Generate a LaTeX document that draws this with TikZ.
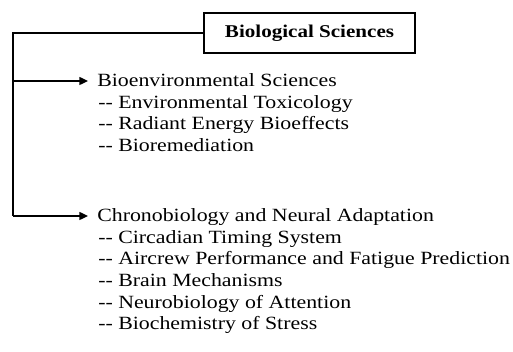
\documentclass[tikz,border=0pt]{standalone}
\usepackage{fontspec}
\setmainfont[FakeStretch=1.17]{Liberation Serif}
\usetikzlibrary{arrows.meta}

\begin{document}
\begin{tikzpicture}[x=0.75pt,y=-0.75pt,
  txt/.style={inner sep=0pt,anchor=base west,font=\fontsize{14}{16}\selectfont},
  head/.style={txt,inner xsep=6.75pt},
  title/.style={draw,line width=1.2pt,minimum width=158pt,minimum height=30pt,inner sep=0pt,font=\fontsize{13.5}{16}\selectfont\bfseries},
  link/.style={line width=1pt}]
\useasboundingbox (0,0) rectangle (513,352);

\node[title] (bs) at (309.5,33) {Biological Sciences};

\node[head] (env) at (88,87) {Bioenvironmental Sciences};
\node[txt] at (98,108.5) {-{}- Environmental Toxicology};
\node[txt] at (98,130) {-{}- Radiant Energy Bioeffects};
\node[txt] at (98,151.5) {-{}- Bioremediation};

\node[head] (chr) at (88,222) {Chronobiology and Neural Adaptation};
\node[txt] at (98,243.5) {-{}- Circadian Timing System};
\node[txt] at (98,265) {-{}- Aircrew Performance and Fatigue Prediction};
\node[txt] at (98,286.5) {-{}- Brain Mechanisms};
\node[txt] at (98,308) {-{}- Neurobiology of Attention};
\node[txt] at (98,329.5) {-{}- Biochemistry of Stress};

\coordinate (top) at (13,33);
\coordinate (mid) at (13,81);
\coordinate (bot) at (13,216);
\draw[link] (bs.west) -- (top) -- (bot);
\draw[link,-{Triangle[length=6.5pt,width=6pt]}] (mid) -- (mid -| env.west);
\draw[link,-{Triangle[length=6.5pt,width=6pt]}] (bot) -- (bot -| chr.west);
\end{tikzpicture}
\end{document}
